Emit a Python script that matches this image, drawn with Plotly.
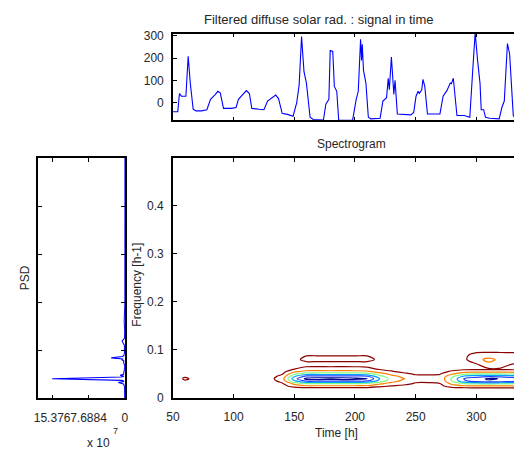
import numpy as np
import plotly.graph_objects as go

W, H = 518, 459

# ---------------- data ----------------
# Top panel: filtered diffuse solar radiation signal
sig_time = [49.5, 54.0, 55.4, 57.0, 60.7, 62.6, 64.3, 66.7, 69.0, 73.6, 78.0, 81.0, 85.0, 87.0,
            89.0, 91.7, 98.4, 102.0, 104.0, 107.8, 110.5, 113.0, 115.0, 121.0, 125.0, 128.0,
            132.0, 134.7, 137.0, 140.0, 145.0, 149.0, 152.0, 154.0, 156.0, 158.0, 160.0, 163.0,
            165.6, 174.0, 176.0, 178.5, 179.6, 181.7, 183.0, 185.0, 186.6, 198.0, 201.0, 202.7,
            204.6, 205.4, 206.0, 207.0, 209.0, 211.0, 213.0, 220.7, 223.0, 226.0, 227.4, 228.3,
            230.0, 231.0, 232.0, 233.0, 234.9, 246.0, 248.4, 250.3, 252.0, 253.0, 255.0, 256.0,
            257.5, 259.7, 270.0, 272.6, 275.8, 278.5, 279.5, 281.0, 284.0, 290.0, 294.6, 297.0,
            299.0, 301.0, 303.0, 304.0, 306.0, 307.5, 311.0, 318.8, 321.0, 323.0, 325.6, 327.4,
            329.0, 330.4, 332.0]
sig_value = [-41, -41, 41, 29, 29, 209, 88, -29, -37, -37, -32, 15, 37, 51,
             44, -26, -26, -22, 15, 37, 54, 41, -26, -30, -32, 7,
             22, 34, 18, -48, -54, -61, 0, 80, 297, 139, 88, -66,
             -76, -78, -7, 15, 234, 230, 73, 51, -80, -80, 15, 51,
             285, 190, 263, 146, 88, -66, -73, -70, 7, 22, 110, 58,
             205, 110, 37, 100, -51, -55, -44, 29, 51, 41, 58, 105,
             73, -51, -51, 29, 55, 88, 85, 110, -58, -58, -66, 146,
             315, 190, 88, -32, -32, -66, -70, -73, -22, 7, 266, 219,
             51, -58, -70]

# Left panel: PSD (units of 1e7) versus frequency [h-1]
psd_freq = [0.000, 0.005, 0.010, 0.015, 0.020, 0.025, 0.030, 0.033, 0.0355, 0.0375, 0.041,
            0.0446, 0.046, 0.048, 0.050, 0.055, 0.060, 0.065, 0.070, 0.075, 0.078, 0.080,
            0.082, 0.0844, 0.087, 0.090, 0.095, 0.100, 0.110, 0.119, 0.125, 0.140, 0.160,
            0.200, 0.300, 0.400, 0.500]
psd_value = [0.05, 0.02, 0.03, 0.05, 0.08, 0.1, 0.3, 1.4, 0.2, 0.6, 15.376,
             0.8, 0.2, 1.0, 0.3, 0.2, 0.1, 0.05, 0.1, 0.3, 0.2, 0.6,
             0.4, 2.9, 0.5, 0.2, 0.1, 0.05, 0.1, 0.6, 0.1, 0.05, 0.15,
             0.02, 0.01, 0.0, 0.0]
psd_ticks = [15.376, 7.6884, 0]
psd_ticktext = ["15.376", "7.6884", "0"]

# Spectrogram grid (arbitrary power units), one list per time column
spec_freqs = [0.000, 0.010, 0.020, 0.025, 0.030, 0.035, 0.040, 0.045, 0.050, 0.055,
              0.060, 0.070, 0.080, 0.090, 0.100, 0.120, 0.500]
spec_times = [50, 60, 70, 80, 90, 100, 110, 120, 130, 140, 150, 160, 170, 180, 190,
              200, 210, 220, 230, 240, 250, 260, 270, 280, 290, 300, 310, 320, 330, 340]
spec_columns = [
    [0.1, 0.2, 0.3, 0.3, 0.4, 0.5, 0.5, 0.5, 0.4, 0.3, 0.3, 0.2, 0.2, 0.1, 0.1, 0.05, 0],   # 50
    [0.1, 0.2, 0.3, 0.4, 0.5, 0.9, 1.12, 0.9, 0.5, 0.4, 0.3, 0.3, 0.2, 0.1, 0.1, 0.05, 0],  # 60
    [0.1, 0.2, 0.3, 0.4, 0.5, 0.65, 0.75, 0.65, 0.5, 0.4, 0.3, 0.3, 0.2, 0.1, 0.1, 0.05, 0],  # 70
    [0.1, 0.2, 0.3, 0.4, 0.5, 0.55, 0.6, 0.55, 0.5, 0.4, 0.3, 0.3, 0.2, 0.1, 0.1, 0.05, 0],  # 80
    [0.1, 0.2, 0.3, 0.4, 0.5, 0.55, 0.6, 0.55, 0.5, 0.4, 0.3, 0.3, 0.2, 0.1, 0.1, 0.05, 0],  # 90
    [0.1, 0.2, 0.3, 0.4, 0.5, 0.55, 0.6, 0.55, 0.5, 0.4, 0.3, 0.3, 0.2, 0.1, 0.1, 0.05, 0],  # 100
    [0.1, 0.2, 0.3, 0.4, 0.5, 0.55, 0.6, 0.55, 0.5, 0.4, 0.3, 0.3, 0.2, 0.1, 0.1, 0.05, 0],  # 110
    [0.1, 0.2, 0.3, 0.4, 0.5, 0.55, 0.6, 0.55, 0.5, 0.4, 0.3, 0.3, 0.2, 0.1, 0.1, 0.05, 0],  # 120
    [0.1, 0.2, 0.3, 0.4, 0.5, 0.6, 0.7, 0.6, 0.5, 0.4, 0.3, 0.3, 0.2, 0.1, 0.1, 0.05, 0],    # 130
    [0.1, 0.2, 0.35, 0.6, 0.9, 1.3, 1.6, 1.3, 0.9, 0.6, 0.4, 0.3, 0.3, 0.2, 0.1, 0.05, 0],  # 140
    [0.1, 0.25, 0.5, 1.5, 2.3, 3.8, 4.6, 3.9, 2.8, 1.8, 1.0, 0.4, 0.7, 0.5, 0.2, 0.05, 0],  # 150
    [0.1, 0.3, 0.6, 1.9, 3.0, 5.0, 6.3, 5.3, 3.6, 2.3, 1.4, 0.6, 1.3, 0.9, 0.3, 0.05, 0],   # 160
    [0.1, 0.3, 0.6, 1.9, 3.0, 5.0, 6.5, 5.3, 3.6, 2.3, 1.45, 0.6, 1.3, 0.9, 0.3, 0.05, 0],  # 170
    [0.1, 0.3, 0.6, 1.9, 3.0, 5.0, 6.4, 5.3, 3.6, 2.3, 1.4, 0.6, 1.3, 0.9, 0.3, 0.05, 0],   # 180
    [0.1, 0.3, 0.6, 1.9, 3.0, 5.0, 6.5, 5.3, 3.6, 2.3, 1.45, 0.6, 1.3, 0.9, 0.3, 0.05, 0],  # 190
    [0.1, 0.3, 0.6, 1.9, 3.0, 5.0, 6.3, 5.3, 3.6, 2.3, 1.4, 0.6, 1.3, 0.9, 0.3, 0.05, 0],   # 200
    [0.1, 0.3, 0.6, 1.8, 2.9, 4.9, 6.05, 5.1, 3.4, 2.2, 1.3, 0.6, 1.3, 0.9, 0.3, 0.05, 0],  # 210
    [0.1, 0.25, 0.5, 1.3, 2.2, 3.6, 4.1, 3.4, 2.5, 1.6, 0.9, 0.4, 0.8, 0.6, 0.2, 0.05, 0],  # 220
    [0.1, 0.2, 0.45, 1.0, 1.7, 2.3, 2.6, 2.3, 1.7, 1.1, 0.7, 0.3, 0.4, 0.3, 0.1, 0.05, 0],  # 230
    [0.1, 0.2, 0.4, 0.8, 1.3, 1.8, 2.05, 1.8, 1.2, 0.8, 0.5, 0.3, 0.3, 0.2, 0.1, 0.05, 0],  # 240
    [0.1, 0.2, 0.35, 0.6, 0.9, 1.2, 1.4, 1.2, 0.9, 0.6, 0.4, 0.3, 0.3, 0.2, 0.1, 0.05, 0],  # 250
    [0.1, 0.2, 0.35, 0.6, 0.9, 1.15, 1.25, 1.15, 0.9, 0.6, 0.4, 0.3, 0.3, 0.2, 0.1, 0.05, 0],  # 260
    [0.1, 0.2, 0.4, 0.7, 1.0, 1.2, 1.3, 1.2, 0.95, 0.6, 0.4, 0.3, 0.3, 0.2, 0.1, 0.05, 0],  # 270
    [0.1, 0.3, 0.6, 1.6, 2.3, 3.0, 3.2, 2.8, 1.9, 1.2, 0.6, 0.4, 0.5, 0.4, 0.15, 0.05, 0],  # 280
    [0.1, 0.3, 0.7, 1.9, 3.0, 4.8, 5.1, 4.2, 2.8, 1.6, 0.8, 0.6, 0.8, 0.8, 0.3, 0.05, 0],   # 290
    [0.1, 0.3, 0.7, 2.0, 3.2, 5.4, 5.6, 4.6, 3.0, 1.7, 0.85, 0.9, 1.7, 1.3, 0.6, 0.1, 0],   # 300
    [0.1, 0.3, 0.7, 2.0, 3.3, 5.8, 6.15, 4.8, 3.0, 1.7, 0.85, 1.8, 2.25, 1.4, 0.6, 0.1, 0],  # 310
    [0.1, 0.3, 0.7, 2.0, 3.2, 5.6, 5.95, 4.7, 3.0, 1.7, 0.85, 1.5, 1.8, 1.35, 0.6, 0.1, 0],  # 320
    [0.1, 0.3, 0.7, 2.0, 3.1, 5.3, 5.6, 4.5, 2.9, 1.6, 0.8, 0.95, 1.4, 1.3, 0.6, 0.1, 0],   # 330
    [0.1, 0.3, 0.7, 1.9, 3.0, 5.0, 5.3, 4.3, 2.8, 1.5, 0.8, 0.95, 1.4, 1.3, 0.6, 0.1, 0],   # 340
]
contour_levels = [1, 2, 3, 4, 5, 6]
level_colors = ["#8B0000", "#FF8000", "#80FF80", "#00A0FF", "#2040FF", "#000090"]

# ---------------- figure ----------------
def px_x(p):
    return p / W

def px_y(p):
    return 1 - p / H

FONT = "Liberation Sans, Arial, Helvetica, sans-serif"
TXT = "#262626"

fig = go.Figure()

fig.add_trace(go.Scatter(x=sig_time, y=sig_value, mode="lines",
                         line=dict(color="#0000FF", width=1.1),
                         xaxis="x", yaxis="y", showlegend=False, hoverinfo="skip"))

fig.add_trace(go.Scatter(x=psd_value, y=psd_freq, mode="lines",
                         line=dict(color="#0000FF", width=1.1),
                         xaxis="x2", yaxis="y2", showlegend=False, hoverinfo="skip"))

z = np.array(spec_columns).T
n = len(contour_levels)
cscale = [[i / (n - 1), c] for i, c in enumerate(level_colors)]
fig.add_trace(go.Contour(x=spec_times, y=spec_freqs, z=z,
                         contours=dict(start=contour_levels[0], end=contour_levels[-1],
                                       size=1, coloring="lines"),
                         colorscale=cscale, zmin=contour_levels[0], zmax=contour_levels[-1],
                         line=dict(width=1.2, smoothing=1.0), showscale=False,
                         xaxis="x3", yaxis="y3", hoverinfo="skip"))

axis_common = dict(showline=True, linecolor="black", linewidth=1.5, ticks="inside",
                   ticklen=4, tickcolor="black", showgrid=False, zeroline=False,
                   tickfont=dict(family=FONT, size=12, color=TXT))

fig.update_layout(
    width=W, height=H, margin=dict(l=0, r=0, t=0, b=0),
    paper_bgcolor="white", plot_bgcolor="white", showlegend=False,
    xaxis=dict(**axis_common, domain=[px_x(169.5), 1], range=[50, 331], anchor="y",
               tickvals=[100, 150, 200, 250, 300], showticklabels=False, mirror="ticks"),
    yaxis=dict(**axis_common, domain=[px_y(118.5), px_y(29.5)], range=[-80, 310], anchor="x",
               tickvals=[0, 100, 200, 300], mirror=False, ticklabelstandoff=5),
    xaxis2=dict(**axis_common, domain=[px_x(31.7), px_x(120.5)], range=[18.35, 0], anchor="y2",
                tickvals=psd_ticks, ticktext=psd_ticktext, mirror="ticks",
                tickangle=0, ticklabelstandoff=7),
    yaxis2=dict(**axis_common, domain=[px_y(404), px_y(157)], range=[0, 0.5], anchor="x2",
                tickvals=[0.1, 0.2, 0.3, 0.4], showticklabels=False, mirror="ticks"),
    xaxis3=dict(**axis_common, domain=[px_x(169.5), 1], range=[50, 331], anchor="y3",
                tickvals=[50, 100, 150, 200, 250, 300], mirror="ticks",
                tickangle=0, ticklabelstandoff=7),
    yaxis3=dict(**axis_common, domain=[px_y(403.5), px_y(157)], range=[0, 0.5], anchor="x3",
                tickvals=[0, 0.1, 0.2, 0.3, 0.4], mirror=False, ticklabelstandoff=5),
)

def note(text, x, y, size=12, angle=0, xanchor="center"):
    fig.add_annotation(text=text, x=px_x(x), y=px_y(y), xref="paper", yref="paper",
                       showarrow=False, textangle=angle, xanchor=xanchor, yanchor="middle",
                       font=dict(family=FONT, size=size, color=TXT))

note("Filtered diffuse solar rad. : signal in time", 319, 15, size=13)
note("Spectrogram", 352, 143)
note("Time [h]", 337, 439)
note("Frequency [h-1]", 133, 287, angle=-90)
note("PSD", 18, 280, angle=-90)
note("x 10", 93, 450, size=12)
note("7", 111, 437, size=9)

fig.write_html("out.html")
